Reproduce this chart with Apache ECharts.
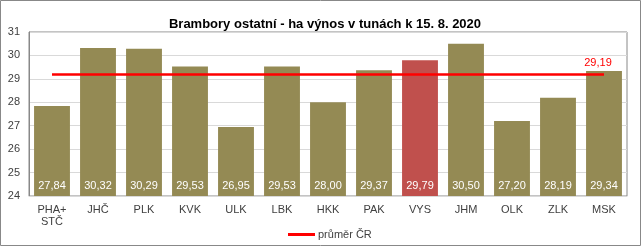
<!DOCTYPE html>
<html>
<head>
<meta charset="utf-8">
<script src="https://cdn.jsdelivr.net/npm/echarts@6/dist/echarts.min.js"></script>
<style>
html,body{margin:0;padding:0;background:#fff;}
#c{width:643px;height:247px;}
</style>
</head>
<body>
<div id="c"></div>
<script>
const categories = ['PHA+\nSTČ','JHČ','PLK','KVK','ULK','LBK','HKK','PAK','VYS','JHM','OLK','ZLK','MSK'];
const values = [27.84,30.32,30.29,29.53,26.95,29.53,28.00,29.37,29.79,30.50,27.20,28.19,29.34];
const average = 29.19;
const averageLine = [29.19,29.19,29.19,29.19,29.19,29.19,29.19,29.19,29.19,29.19,29.19,29.19,29.19];
const highlightIndex = 8;
const yTicks = {min:24, max:31, interval:1};

const fmt = v => v.toFixed(2).replace('.', ',');
const lastIdx = averageLine.length - 1;
const chart = echarts.init(document.getElementById('c'), null, {renderer:'canvas'});
chart.setOption({
  animation:false,
  backgroundColor:'#fff',
  textStyle:{fontFamily:'Liberation Sans, Arial, sans-serif'},
  title:{
    text:'Brambory ostatní - ha výnos v tunách k 15. 8. 2020',
    left:320, top:13, textAlign:'center',
    textStyle:{fontSize:13, fontWeight:'bold', color:'#000', fontFamily:'Liberation Sans, Arial, sans-serif'}
  },
  graphic:[{type:'rect', shape:{x:0.5,y:0.5,width:640,height:245}, style:{fill:null, stroke:'#888', lineWidth:1}, silent:true, z:100}],
  grid:{left:29, right:16, top:32, bottom:51, show:true, borderColor:'#888', borderWidth:1, backgroundColor:'transparent'},
  legend:{
    data:[{name:'průměr ČR', icon:'rect'}],
    left:283, top:224, itemWidth:27, itemHeight:3, itemGap:4,
    textStyle:{fontSize:11, color:'#404040', padding:[0,0,0,-2]}
  },
  xAxis:{
    type:'category', data:categories,
    axisLine:{show:true, lineStyle:{color:'#d9d9d9'}},
    axisTick:{show:false},
    axisLabel:{fontSize:11, color:'#404040', margin:8, lineHeight:12, interval:0}
  },
  yAxis:{
    type:'value', min:yTicks.min, max:yTicks.max, interval:yTicks.interval,
    axisLine:{show:true, lineStyle:{color:'#888'}},
    axisTick:{show:false},
    splitLine:{lineStyle:{color:'#d9d9d9'}},
    axisLabel:{fontSize:11, color:'#404040', margin:9}
  },
  series:[
    {
      type:'bar', name:'výnos',
      data: values.map((v,i)=>({value:v, itemStyle:{color: i===highlightIndex ? '#C0504D' : '#948A54'}})),
      barCategoryGap:'22%',
      label:{show:true, position:'insideBottom', distance:5, color:'#fff', fontSize:11, formatter:p=>fmt(p.value)}
    },
    {
      type:'line', name:'průměr ČR', data:averageLine,
      symbol:'circle', symbolSize:0, showSymbol:true, lineStyle:{color:'#FF0000', width:2.5}, itemStyle:{color:'#FF0000'},
      z:5,
      label:{show:true, position:'top', distance:6, offset:[-6,0], color:'#FF0000', fontSize:11,
        formatter:p=> p.dataIndex===lastIdx ? fmt(average) : ''}
    }
  ]
});
</script>
</body>
</html>
